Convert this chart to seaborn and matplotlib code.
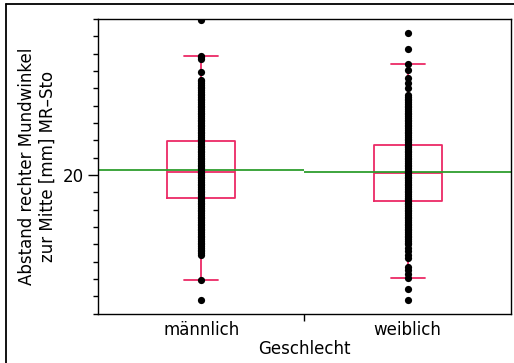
import pandas as pd
import matplotlib.pyplot as plt
from matplotlib.lines import Line2D
from matplotlib.ticker import MultipleLocator
import seaborn as sns

groups = ['männlich', 'weiblich']

male_values = [24.47, 23.44, 23.40, 23.35, 22.98,
               22.75, 22.7, 22.65, 22.6, 22.55, 22.5, 22.45, 22.4, 22.35, 22.3,
               22.25, 22.2, 22.15, 22.1, 22.05, 22.0, 21.95, 21.9, 21.85, 21.8,
               21.75, 21.7, 21.65, 21.6, 21.55, 21.5, 21.45, 21.4, 21.35, 21.3,
               21.25, 21.2, 21.15, 21.1, 21.05, 21.0, 20.95, 20.9, 20.85, 20.8,
               20.75, 20.7, 20.65, 20.6, 20.55, 20.5, 20.45, 20.4, 20.35, 20.3,
               20.25, 20.2, 20.15, 20.1, 20.05, 20.0, 19.95, 19.9, 19.85, 19.8,
               19.75, 19.7, 19.65, 19.6, 19.55, 19.5, 19.45, 19.4, 19.35, 19.3,
               19.25, 19.2, 19.15, 19.1, 19.05, 19.0, 18.95, 18.9, 18.85, 18.8,
               18.75, 18.7, 18.65, 18.6, 18.55, 18.5, 18.45, 18.4, 18.35, 18.3,
               18.25, 18.2, 18.15, 18.1, 18.05, 18.0, 17.95, 17.9, 17.85, 17.8,
               17.75, 17.7,
               16.97, 16.39]
female_values = [24.09, 23.63, 23.20, 23.03, 22.80, 22.65, 22.51,
                 22.3, 22.25, 22.2, 22.15, 22.1, 22.05, 22.0, 21.95, 21.9, 21.85,
                 21.8, 21.75, 21.7, 21.65, 21.6, 21.55, 21.5, 21.45, 21.4, 21.35,
                 21.3, 21.25, 21.2, 21.15, 21.1, 21.05, 21.0, 20.95, 20.9, 20.85,
                 20.8, 20.75, 20.7, 20.65, 20.6, 20.55, 20.5, 20.45, 20.4, 20.35,
                 20.3, 20.25, 20.2, 20.15, 20.1, 20.05, 20.0, 19.95, 19.9, 19.85,
                 19.8, 19.75, 19.7, 19.65, 19.6, 19.55, 19.5, 19.45, 19.4, 19.35,
                 19.3, 19.25, 19.2, 19.15, 19.1, 19.05, 19.0, 18.95, 18.9, 18.85,
                 18.8, 18.75, 18.7, 18.65, 18.6, 18.55, 18.5, 18.45, 18.4, 18.35,
                 18.3, 18.25, 18.2, 18.15, 18.1, 18.05, 18.0,
                 17.9, 17.8, 17.7, 17.6, 17.35, 17.25, 17.15, 17.04,
                 16.70, 16.39]

# box summaries: lower whisker, Q1, median, Q3, upper whisker
male_box = [16.97, 19.33, 20.10, 20.98, 23.44]
female_box = [17.04, 19.26, 20.07, 20.87, 23.20]

# group means (green lines)
group_means = [20.14, 20.08]

pink = '#EC2A66'
green = '#2E9E2E'

points = pd.DataFrame({
    'Geschlecht': [groups[0]] * len(male_values) + [groups[1]] * len(female_values),
    'wert': male_values + female_values,
})
boxes = pd.DataFrame({
    'Geschlecht': [groups[0]] * len(male_box) + [groups[1]] * len(female_box),
    'wert': male_box + female_box,
})

sns.set_theme(style="ticks")
plt.rcParams['font.family'] = ['DejaVu Sans']
plt.rcParams['text.color'] = 'black'
plt.rcParams['axes.labelcolor'] = 'black'
plt.rcParams['xtick.color'] = 'black'
plt.rcParams['ytick.color'] = 'black'

fig = plt.figure(figsize=(5.14, 3.63), dpi=100)
ax = fig.add_axes([0.1907, 0.1358, 0.8033, 0.8119])

sns.boxplot(data=boxes, x='Geschlecht', y='wert', order=groups,
            width=0.33, fill=False, color=pink, linewidth=1.3,
            showfliers=False, whis=1.5, ax=ax)

for i, m in enumerate(group_means):
    ax.hlines(m, i - 0.5, i + 0.5, color=green, linewidth=1.3, zorder=2.5)

sns.stripplot(data=points, x='Geschlecht', y='wert', order=groups,
              jitter=False, color='black', size=5.2, linewidth=0,
              zorder=3, ax=ax)

ax.set_xlim(-0.5, 1.5)
ax.set_ylim(16.0, 24.5)
ax.set_yticks([20])
ax.set_yticklabels(['20'])
ax.yaxis.set_minor_locator(MultipleLocator(0.5))
ax.set_xticks([0, 1])
ax.set_xticklabels(groups)
ax.set_xticks([0.5], minor=True)

ax.tick_params(axis='y', which='major', length=7, width=1, labelsize=12, pad=3.5)
ax.tick_params(axis='y', which='minor', length=3.6, width=1)
ax.tick_params(axis='x', which='major', length=0, labelsize=12, pad=5)
ax.tick_params(axis='x', which='minor', length=5, width=1)

for side in ['left', 'right', 'top', 'bottom']:
    ax.spines[side].set_visible(True)
    ax.spines[side].set_color('black')
    ax.spines[side].set_linewidth(1.0)

ax.set_xlabel('Geschlecht', fontsize=12, labelpad=1)
ax.set_ylabel('Abstand rechter Mundwinkel\nzur Mitte [mm] MR\u2013Sto', fontsize=12, labelpad=4)

# outer report frame (left and top edges)
W, H = 514, 363
fig.add_artist(Line2D([6 / W, 6 / W], [0, 1 - 4 / H], color='black', linewidth=1.3))
fig.add_artist(Line2D([6 / W, 1], [1 - 4 / H, 1 - 4 / H], color='black', linewidth=1.3))

fig.savefig('out.png', dpi=100)
